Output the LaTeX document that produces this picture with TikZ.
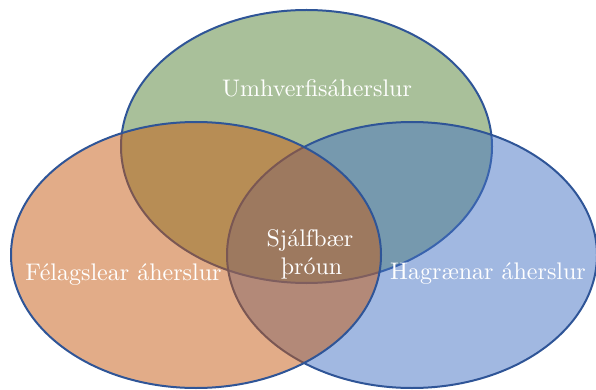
\documentclass[tikz,border=0pt]{standalone}
\usepackage{fontspec}
\setmainfont{lmroman10-regular}[Extension=.otf]
\definecolor{envgreen}{HTML}{548235}
\definecolor{econblue}{HTML}{4472C4}
\definecolor{socorange}{HTML}{C55A11}
\definecolor{rimblue}{HTML}{2F5597}
\tikzset{
	venn/.style={draw=rimblue, line width=2pt, fill opacity=0.5},
	vennlabel/.style={text=white, anchor=base, inner sep=0pt, font=\fontsize{24}{28}\selectfont}
}
\begin{document}
\begin{tikzpicture}[x=1pt, y=-1pt]
				\useasboundingbox (0,0) rectangle (596,390);
				\clip (0,0) rectangle (596,390);

				% Umhverfi
				\draw[venn, fill=envgreen] (306.5,146.5) ellipse (185.5 and 136.5);

				% Hagkerfi
				\draw[venn, fill=econblue] (412,255) ellipse (185 and 133);

				% Samfelag
				\draw[venn, fill=socorange] (196,255) ellipse (185 and 133);

				% Labels
				\node[vennlabel] (env) at (317,97) {Umhverfisáherslur};
				\node[vennlabel] (soc) at (123.5,280) {Félagslear áherslur};
				\node[vennlabel] (econ) at (488,279) {Hagrænar áherslur};
				\node[vennlabel] (sus) at (310,246) {Sjálfbær};
				\node[vennlabel] (susb) at (311.5,274) {þróun};
			\end{tikzpicture}
\end{document}
